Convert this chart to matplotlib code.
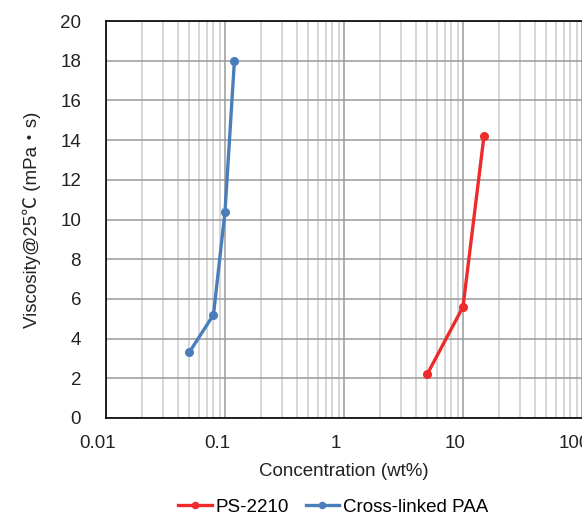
import matplotlib
matplotlib.use('Agg')
import matplotlib.pyplot as plt
import matplotlib.transforms as mtransforms
from matplotlib.ticker import LogLocator, NullFormatter
import numpy as np

plt.rcParams['font.family'] = ['Liberation Sans', 'Noto Sans CJK JP', 'DejaVu Sans']

# data
ps_conc = [5.0, 10.0, 15.0]
ps_visc = [2.2, 5.6, 14.2]
paa_conc = [0.05, 0.08, 0.1, 0.12]
paa_visc = [3.3, 5.2, 10.4, 18.0]

x_ticks = [0.01, 0.1, 1, 10, 100]
x_labels = ['0.01', '0.1', '1', '10', '100']
y_ticks = list(range(0, 21, 2))

red = '#EE2A2A'
blue = '#4A7EBB'
fs = 13.5

fig = plt.figure(figsize=(5.82, 5.18), dpi=100)
ax = fig.add_axes([106 / 582, 1 - 418 / 518, 1 - 106 / 582, (418 - 21) / 518])

ax.plot(ps_conc, ps_visc, color=red, lw=2.4, marker='o', ms=5.5, label='PS-2210', zorder=3)
ax.plot(paa_conc, paa_visc, color=blue, lw=2.4, marker='o', ms=5.5, label='Cross-linked PAA', zorder=3)

ax.set_xscale('log')
ax.set_xlim(0.01, 100)
ax.set_ylim(0, 20)
ax.set_xticks(x_ticks)
ax.set_xticklabels(x_labels)
ax.xaxis.set_minor_locator(LogLocator(base=10, subs=np.arange(2, 10)))
ax.xaxis.set_minor_formatter(NullFormatter())
ax.set_yticks(y_ticks)

ax.grid(True, which='major', color='#9a9a9a', lw=1.1)
ax.grid(True, which='minor', axis='x', color='#cccccc', lw=1.1)
ax.set_axisbelow(True)

for side in ['left', 'bottom', 'top']:
    ax.spines[side].set_color('black')
    ax.spines[side].set_linewidth(1.2)
ax.spines['right'].set_visible(False)

ax.tick_params(axis='both', which='both', length=0, labelsize=fs, colors='#222222')
ax.tick_params(axis='y', pad=18)
ax.tick_params(axis='x', pad=12)

# Excel-like shift of x labels slightly left
shift = mtransforms.ScaledTranslation(-8 / 100, 0, fig.dpi_scale_trans)
for lab in ax.get_xticklabels():
    lab.set_transform(lab.get_transform() + shift)

ax.set_xlabel('Concentration (wt%)', fontsize=fs, color='#222222', labelpad=8)
ax.set_ylabel('Viscosity@25\u2103 (mPa\u30fbs)', fontsize=fs, color='#222222', labelpad=14)

fig.legend(loc='center', bbox_to_anchor=(333 / 582, 1 - 507 / 518), ncol=2, frameon=False,
           fontsize=fs, handlelength=1.8, handletextpad=0.2, columnspacing=0.9,
           markerscale=0.8)

fig.savefig('out.png', dpi=100)
